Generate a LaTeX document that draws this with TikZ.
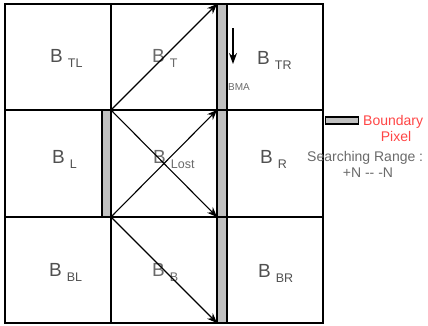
\documentclass[tikz,border=0pt]{standalone}
\usepackage{fontspec}
\setmainfont{Liberation Sans}
\usetikzlibrary{arrows.meta}
\definecolor{bargray}{HTML}{C0C0C0}
\definecolor{txtgray}{HTML}{505050}
\definecolor{lbgray}{HTML}{6A6A6A}
\definecolor{lightred}{HTML}{FF4545}
\newcommand{\blab}[1]{B\hspace{5pt}\raisebox{-5pt}{\fontsize{12.5}{12.5}\selectfont #1}}
\begin{document}
\begin{tikzpicture}[x=1pt,y=-1pt,
  cell/.style={draw=black,line width=1.4pt,inner sep=0pt,outer sep=0pt},
  bar/.style={draw=black,fill=bargray,line width=1.1pt,inner sep=0pt,outer sep=0pt},
  blabel/.style={anchor=base west,inner sep=0pt,text=txtgray,font=\fontsize{19}{19}\selectfont},
  legtext/.style={inner sep=0pt,font=\fontsize{14}{14}\selectfont},
  arr/.style={-{Stealth[length=10pt,width=8pt]},line width=1.1pt,draw=black}]
\useasboundingbox (0,0) rectangle (428,325);
% cells
\node[cell,minimum width=106pt,minimum height=106pt] (cTL) at (58,57) {};
\node[cell,minimum width=106pt,minimum height=106pt] (cT) at (164,57) {};
\node[cell,minimum width=96pt,minimum height=106pt] (cTR) at (275,57) {};
\node[cell,minimum width=106pt,minimum height=107pt] (cL) at (58,163.5) {};
\node[cell,minimum width=106pt,minimum height=107pt] (cC) at (164,163.5) {};
\node[cell,minimum width=96pt,minimum height=107pt] (cR) at (275,163.5) {};
\node[cell,minimum width=106pt,minimum height=106pt] (cBL) at (58,270) {};
\node[cell,minimum width=106pt,minimum height=106pt] (cB) at (164,270) {};
\node[cell,minimum width=96pt,minimum height=106pt] (cBR) at (275,270) {};
% bars
\node[bar,minimum width=10pt,minimum height=319pt] (bigbar) at (222,163.5) {};
\node[bar,minimum width=9pt,minimum height=107pt] (smallbar) at (106.5,163.5) {};
% horizontal lines across the big bar
\draw[line width=1.4pt] (cT.south east) -- (cTR.south west);
\draw[line width=1.4pt] (cC.south east) -- (cR.south west);
% labels
\node[blabel] (lTL) at (50,62) {\blab{TL}};
\node[blabel,text=lbgray] (lT) at (152,62) {\blab{T}};
\node[blabel] (lTR) at (257,64) {\blab{TR}};
\node[blabel] (lL) at (52,163) {\blab{L}};
\node[blabel,text=lbgray] (lC) at (153,163) {\blab{Lost}};
\node[blabel] (lR) at (260,163) {\blab{R}};
\node[blabel] (lBL) at (49,276) {\blab{BL}};
\node[blabel,text=lbgray] (lB) at (152,276) {\blab{B}};
\node[blabel] (lBR) at (258,277) {\blab{BR}};
% arrows
\draw[arr] (cT.south west) -- (cT.north east);
\draw[arr] (cC.north west) -- (cC.south east);
\draw[arr] (cC.south west) -- (cC.north east);
\draw[arr] (cB.north west) -- (cB.south east);
% BMA
\coordinate (bmaTop) at (233,28);
\coordinate (bmaTip) at (233,64);
\draw[-{Stealth[length=11pt,width=8pt]},line width=1.1pt] (bmaTop) -- (bmaTip);
\node[anchor=base west,inner sep=0pt,text=lbgray,font=\fontsize{10}{10}\selectfont] (bma) at (228,90) {BMA};
% legend
\node[bar,line width=1.4pt,minimum width=33pt,minimum height=7pt] (legbar) at (342,120.5) {};
\node[legtext,anchor=base west,text=lightred] (bnd) at (363,125) {Boundary};
\node[legtext,anchor=base,text=lightred] (pix) at (396,141) {Pixel};
\node[legtext,anchor=base west,text=lbgray] (sr) at (307,161) {Searching Range :};
\node[legtext,anchor=base,text=lbgray] (rng) at (368,177) {+N -{}- -N};
\end{tikzpicture}
\end{document}
